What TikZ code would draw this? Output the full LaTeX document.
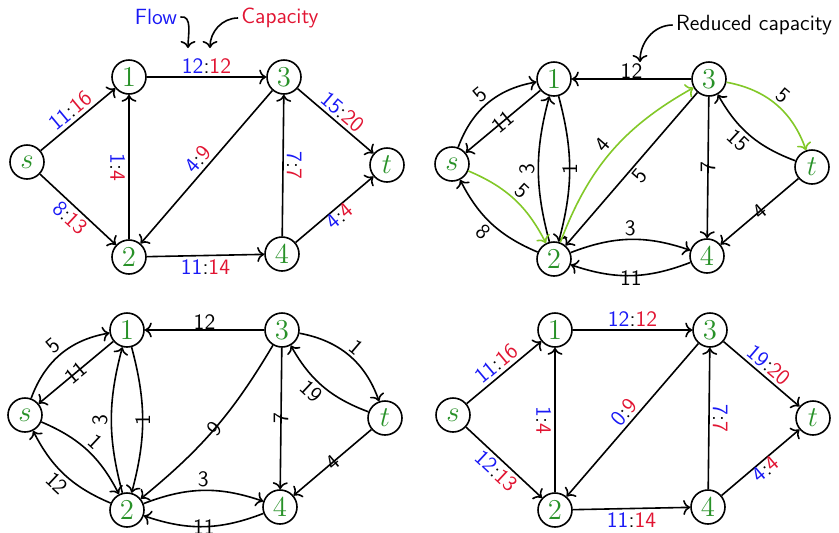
\documentclass[tikz,border=0pt]{standalone}
\usepackage{tikz}
\usetikzlibrary{arrows.meta}

\definecolor{flowblue}{RGB}{25,25,245}
\definecolor{capred}{RGB}{225,20,50}
\definecolor{nodegreen}{RGB}{40,145,40}
\definecolor{augcolor}{RGB}{130,200,40}
\newcommand{\flowcap}[2]{\textcolor{flowblue}{#1}:\textcolor{capred}{#2}}

\tikzset{
    vertex/.style={circle, draw, thick, minimum size=17pt, inner sep=0pt, text=nodegreen, font=\Large},
    lab/.style={font=\sffamily\fontsize{11pt}{13pt}\selectfont, inner sep=1.5pt},
    flowedge/.style={-{To[length=3.5pt, width=7.5pt]}, thick},
    augedge/.style={flowedge, augcolor}
}

\begin{document}
\begin{tikzpicture}[x=0.5pt, y=-0.5pt]
    \useasboundingbox (0,0) rectangle (839,532);

    \foreach \g/\x/\y in {a/27/77, b/452/79, c/25/330, d/453/330}{
        \node[vertex] (\g s) at (\x, \y+85) {$s$};
        \node[vertex] (\g 1) at (\x+102, \y) {$1$};
        \node[vertex] (\g 2) at (\x+102, \y+180) {$2$};
        \node[vertex] (\g 3) at (\x+257, \y) {$3$};
        \node[vertex] (\g 4) at (\x+255, \y+177) {$4$};
        \node[vertex] (\g t) at (\x+360, \y+88) {$t$};
    }

    \draw[flowedge] (as) -- node[lab, sloped, above] {\flowcap{11}{16}} (a1);
    \draw[flowedge] (as) -- node[lab, sloped, below] {\flowcap{8}{13}} (a2);
    \draw[flowedge] (a1) -- node[lab, above] (fl13) {\flowcap{12}{12}} (a3);
    \draw[flowedge] (a2) -- node[lab, rotate=-90, anchor=north] {\flowcap{1}{4}} (a1);
    \draw[flowedge] (a3) -- node[lab, sloped, above] {\flowcap{4}{9}} (a2);
    \draw[flowedge] (a4) -- node[lab, rotate=-90, anchor=south] {\flowcap{7}{7}} (a3);
    \draw[flowedge] (a3) -- node[lab, sloped, above] {\flowcap{15}{20}} (at);
    \draw[flowedge] (a4) -- node[lab, sloped, below, inner sep=0pt] {\flowcap{4}{4}} (at);
    \draw[flowedge] (a2) -- node[lab, below] {\flowcap{11}{14}} (a4);

    \node[lab, text=flowblue] (flowtxt) at (156,17) {Flow};
    \node[lab, text=capred] (captxt) at (280,18) {Capacity};
    \coordinate (flowtip) at (188,48);
    \coordinate (captip) at (210,48);
    \draw[flowedge] (flowtxt.east) to[out=10, in=90] (flowtip);
    \draw[flowedge] (captxt.west) to[out=180, in=90] (captip);

    \draw[flowedge] (b3) -- node[lab, above, inner sep=0pt] {12} (b1);
    \draw[flowedge] (bs) to[bend left=30] node[lab, sloped, above] {5} (b1);
    \draw[flowedge] (b1) -- node[lab, sloped] {11} (bs);
    \draw[flowedge] (b2) to[bend left=15] node[lab, rotate=90, anchor=south] {3} (b1);
    \draw[flowedge] (b1) to[bend left=15] node[lab, rotate=90] {1} (b2);
    \draw[augedge] (bs) to[bend left=20] node[lab, black, sloped, above] {5} (b2);
    \draw[flowedge] (b2) to[bend left=20] node[lab, sloped, below] {8} (bs);
    \draw[augedge] (b2) to[bend left=20] node[lab, black, sloped, above] {4} (b3);
    \draw[flowedge] (b3) -- node[lab, sloped, below] {5} (b2);
    \draw[flowedge] (b3) -- node[lab, rotate=90] {7} (b4);
    \draw[augedge] (b3) to[bend left=30] node[lab, black, sloped, above] {5} (bt);
    \draw[flowedge] (bt) to[bend left=20] node[lab, sloped, below, pos=.55] {15} (b3);
    \draw[flowedge] (bt) -- node[lab, sloped] {4} (b4);
    \draw[flowedge] (b2) to[bend left=20] node[lab, above] {3} (b4);
    \draw[flowedge] (b4) to[bend left=20] node[lab, below, inner sep=0pt, yshift=3pt] {11} (b2);

    \node[lab] (redtxt) at (754,25) {Reduced capacity};
    \coordinate (redtip) at (640,62);
    \draw[flowedge] (redtxt.west) to[out=180, in=90] (redtip);

    \draw[flowedge] (c3) -- node[lab, above, inner sep=0pt] {12} (c1);
    \draw[flowedge] (cs) to[bend left=30] node[lab, sloped, above] {5} (c1);
    \draw[flowedge] (c1) -- node[lab, sloped] {11} (cs);
    \draw[flowedge] (c2) to[bend left=15] node[lab, rotate=90, anchor=south] {3} (c1);
    \draw[flowedge] (c1) to[bend left=15] node[lab, rotate=90] {1} (c2);
    \draw[flowedge] (cs) to[bend left=20] node[lab, sloped, above] {1} (c2);
    \draw[flowedge] (c2) to[bend left=20] node[lab, sloped, below] {12} (cs);
    \draw[flowedge] (c3) to[bend left=10] node[lab, sloped] {9} (c2);
    \draw[flowedge] (c3) -- node[lab, rotate=90] {7} (c4);
    \draw[flowedge] (c3) to[bend left=30] node[lab, sloped, above] {1} (ct);
    \draw[flowedge] (ct) to[bend left=20] node[lab, sloped, below, pos=.55] {19} (c3);
    \draw[flowedge] (ct) -- node[lab, sloped] {4} (c4);
    \draw[flowedge] (c2) to[bend left=20] node[lab, above] {3} (c4);
    \draw[flowedge] (c4) to[bend left=20] node[lab, below, inner sep=0pt, yshift=4pt] {11} (c2);

    \draw[flowedge] (ds) -- node[lab, sloped, above] {\flowcap{11}{16}} (d1);
    \draw[flowedge] (ds) -- node[lab, sloped, below] {\flowcap{12}{13}} (d2);
    \draw[flowedge] (d1) -- node[lab, above] {\flowcap{12}{12}} (d3);
    \draw[flowedge] (d2) -- node[lab, rotate=-90, anchor=north] {\flowcap{1}{4}} (d1);
    \draw[flowedge] (d3) -- node[lab, sloped, above] {\flowcap{0}{9}} (d2);
    \draw[flowedge] (d4) -- node[lab, rotate=-90, anchor=south] {\flowcap{7}{7}} (d3);
    \draw[flowedge] (d3) -- node[lab, sloped, above] {\flowcap{19}{20}} (dt);
    \draw[flowedge] (d4) -- node[lab, sloped, below, inner sep=0pt] {\flowcap{4}{4}} (dt);
    \draw[flowedge] (d2) -- node[lab, below] {\flowcap{11}{14}} (d4);

\end{tikzpicture}
\end{document}
